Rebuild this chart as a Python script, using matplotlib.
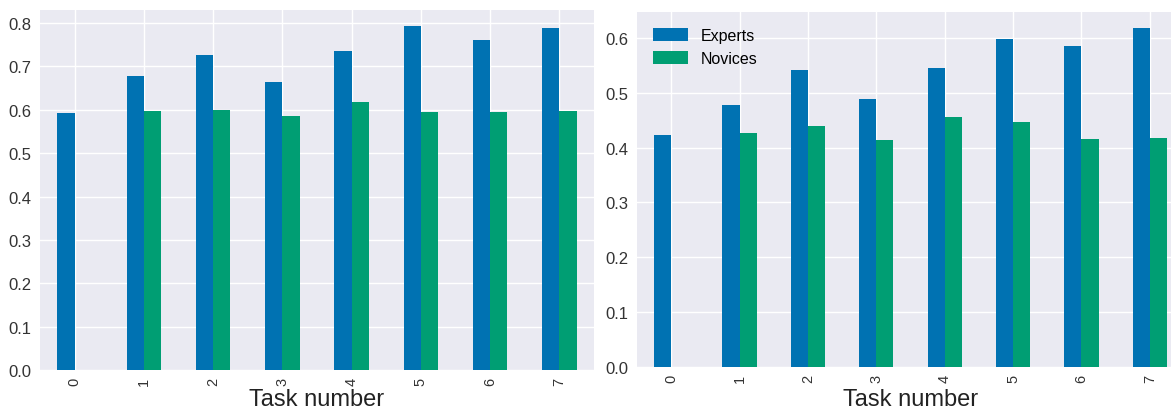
import matplotlib

matplotlib.use("Agg", force=True)

import matplotlib.pyplot as plt
import numpy as np
import pandas as pd

tasks = [0, 1, 2, 3, 4, 5, 6, 7]
series_names = ["Experts", "Novices"]

# left panel
left_experts = [0.592, 0.677, 0.727, 0.664, 0.735, 0.793, 0.760, 0.788]
left_novices = [np.nan, 0.596, 0.600, 0.586, 0.617, 0.594, 0.594, 0.596]

# right panel
right_experts = [0.422, 0.478, 0.541, 0.489, 0.545, 0.598, 0.585, 0.618]
right_novices = [np.nan, 0.427, 0.440, 0.413, 0.455, 0.446, 0.416, 0.418]

left_yticks = [0.0, 0.1, 0.2, 0.3, 0.4, 0.5, 0.6, 0.7, 0.8]
right_yticks = [0.0, 0.1, 0.2, 0.3, 0.4, 0.5, 0.6]

plt.rcParams["font.family"] = ["Liberation Sans", "DejaVu Sans"]

BLUE = "#0072B2"
GREEN = "#009E73"
BG = "#EAEAF2"
TEXT = "#333333"

W, H = 1171, 410
fig = plt.figure(figsize=(W / 100, H / 100), dpi=100)


def _axes(left, right, top, bottom):
    return fig.add_axes(
        [left / W, (H - bottom) / H, (right - left) / W, (bottom - top) / H]
    )


def _draw(ax, experts, novices, yticks, ylim, label_y, legend):
    df = pd.DataFrame({series_names[0]: experts, series_names[1]: novices}, index=tasks)
    df.plot(kind="bar", ax=ax, color=[BLUE, GREEN], width=0.5, legend=False, zorder=2)
    ax.set_facecolor(BG)
    for spine in ax.spines.values():
        spine.set_visible(False)
    ax.grid(True, color="white", linewidth=1.0, zorder=0)
    ax.set_axisbelow(True)
    ax.set_xlim(-0.5, 7.5)
    ax.set_ylim(*ylim)
    ax.set_yticks(yticks)
    ax.set_yticklabels([f"{v:.1f}" for v in yticks])
    ax.tick_params(axis="y", length=0, labelsize=12, colors=TEXT, pad=6)
    ax.tick_params(axis="x", length=0, labelsize=10.5, colors=TEXT, pad=5, rotation=90)
    ax.set_xlabel("Task number", fontsize=17, color="#222222", va="baseline")
    ax.xaxis.set_label_coords(0.5, label_y)
    if legend:
        ax.legend(
            loc="upper left",
            frameon=False,
            fontsize=11.5,
            handlelength=2.2,
            handleheight=0.9,
            borderaxespad=0.6,
            labelspacing=0.5,
        )


ax_left = _axes(40, 594, 11, 371)
_draw(ax_left, left_experts, left_novices, left_yticks, (0, 0.83), -0.097, False)

ax_right = _axes(637, 1184, 13, 368)
_draw(ax_right, right_experts, right_novices, right_yticks, (0, 0.647), -0.107, True)

fig.savefig("out.png", dpi=100)
plt.close(fig)
